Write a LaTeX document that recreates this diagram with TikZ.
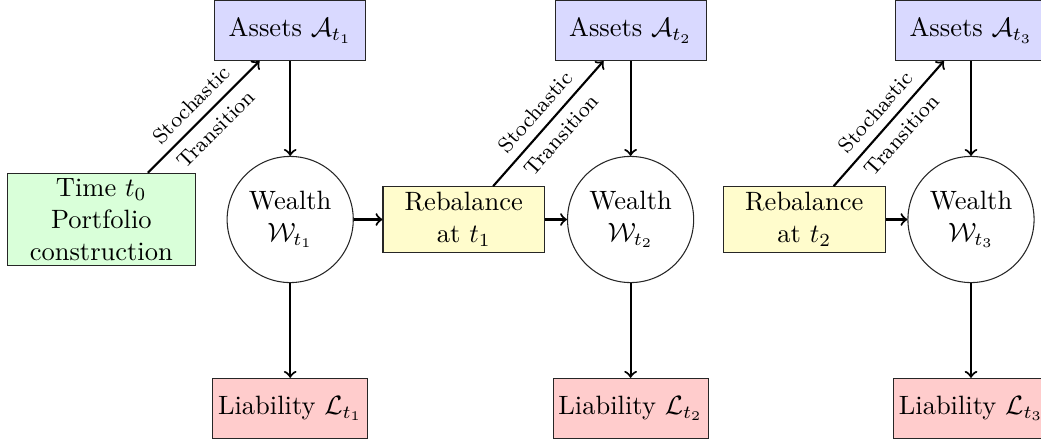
\documentclass[tikz,border=0pt]{standalone}
\usepackage{amsmath}
\begin{document}
\begin{tikzpicture}[x=0.37736pt,y=0.37736pt,
  box/.style={draw=black!85, rectangle, inner sep=2pt, align=center},
  assetbox/.style={box, fill=blue!15, minimum width=57pt, minimum height=22.8pt},
  liabbox/.style={box, fill=red!20, minimum width=58.5pt, minimum height=22.6pt},
  timebox/.style={box, fill=green!15, minimum width=71pt, minimum height=34.5pt},
  rebbox/.style={box, fill=yellow!20, minimum width=61pt, minimum height=24.7pt},
  wealth/.style={draw=black!85, circle, minimum size=47.6pt, inner sep=1pt, align=center},
  conn/.style={->, thick},
  lbl/.style={font=\footnotesize, sloped, midway}
]
\useasboundingbox (0,0) rectangle (1041,441);
\clip (0,0) rectangle (1041,441);

\node[timebox] (t0) at (101.3,221.5) {Time $t_0$\\Portfolio\\construction};

\node[assetbox] (a1) at (290.2,410.7) {Assets $\mathcal{A}_{t_1}$};
\node[wealth] (w1) at (290.2,221.5) {Wealth\\$\mathcal{W}_{t_1}$};
\node[liabbox] (l1) at (290.2,32.7) {Liability $\mathcal{L}_{t_1}$};

\node[rebbox] (r1) at (463.8,221.5) {Rebalance\\at $t_1$};

\node[assetbox] (a2) at (630.6,410.7) {Assets $\mathcal{A}_{t_2}$};
\node[wealth] (w2) at (630.6,221.5) {Wealth\\$\mathcal{W}_{t_2}$};
\node[liabbox] (l2) at (630.6,32.7) {Liability $\mathcal{L}_{t_2}$};

\node[rebbox] (r2) at (804.3,221.5) {Rebalance\\at $t_2$};

\node[assetbox] (a3) at (971,410.7) {Assets $\mathcal{A}_{t_3}$};
\node[wealth] (w3) at (971,221.5) {Wealth\\$\mathcal{W}_{t_3}$};
\node[liabbox] (l3) at (971,32.7) {Liability $\mathcal{L}_{t_3}$};

\draw[conn] (t0) -- node[lbl, above] {Stochastic} node[lbl, below] {Transition} (a1);
\draw[conn] (r1) -- node[lbl, above] {Stochastic} node[lbl, below] {Transition} (a2);
\draw[conn] (r2) -- node[lbl, above] {Stochastic} node[lbl, below] {Transition} (a3);

\draw[conn] (a1) -- (w1);
\draw[conn] (w1) -- (l1);
\draw[conn] (a2) -- (w2);
\draw[conn] (w2) -- (l2);
\draw[conn] (a3) -- (w3);
\draw[conn] (w3) -- (l3);

\draw[conn] (w1) -- (r1);
\draw[conn] (r1) -- (w2);
\draw[conn] (r2) -- (w3);
\end{tikzpicture}
\end{document}
